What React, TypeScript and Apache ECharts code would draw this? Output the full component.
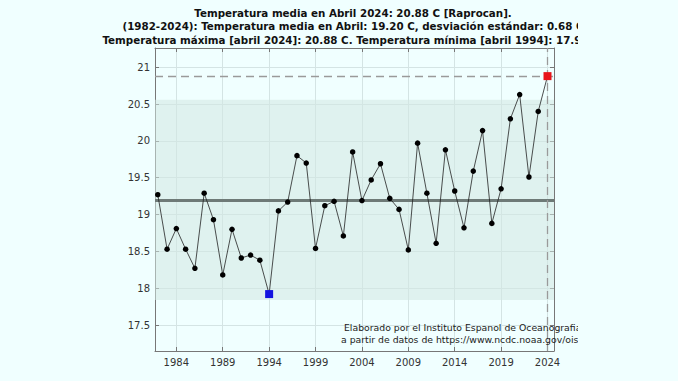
import React, { useEffect, useRef } from "react";
import * as echarts from "echarts";

const years = [
  1982, 1983, 1984, 1985, 1986, 1987, 1988, 1989, 1990, 1991, 1992, 1993, 1994,
  1995, 1996, 1997, 1998, 1999, 2000, 2001, 2002, 2003, 2004, 2005, 2006, 2007,
  2008, 2009, 2010, 2011, 2012, 2013, 2014, 2015, 2016, 2017, 2018, 2019, 2020,
  2021, 2022, 2023, 2024,
];
const temps = [
  19.27, 18.53, 18.81, 18.53, 18.27, 19.29, 18.93, 18.18, 18.8, 18.41, 18.45,
  18.38, 17.92, 19.05, 19.17, 19.8, 19.7, 18.54, 19.12, 19.18, 18.71, 19.85,
  19.19, 19.47, 19.69, 19.22, 19.07, 18.52, 19.97, 19.29, 18.61, 19.88, 19.32,
  18.82, 19.59, 20.14, 18.88, 19.35, 20.3, 20.63, 19.51, 20.4, 20.88,
];
const meanTemp = 19.2;
const stdTemp = 0.68;
const maxYear = 2024;
const maxTemp = 20.88;
const minYear = 1994;
const xTicks = [1984, 1989, 1994, 1999, 2004, 2009, 2014, 2019, 2024];
const yTicks = [17.5, 18, 18.5, 19, 19.5, 20, 20.5, 21];
const titleLines = [
  "Temperatura media en Abril 2024: 20.88 C [Raprocan].",
  "(1982-2024): Temperatura media en Abril: 19.20 C, desviación estándar: 0.68 C",
  "Temperatura máxima [abril 2024]: 20.88 C. Temperatura mínima [abril 1994]: 17.92 C.",
];
const noteLines = [
  "Elaborado por el Instituto Espanol de Oceanografia",
  "a partir de datos de https://www.ncdc.noaa.gov/oisst",
];

const BG = "#F0FFFF";
const FONT = "DejaVu Sans";

export default function App() {
  const ref = useRef<HTMLDivElement>(null);
  useEffect(() => {
    if (!ref.current) return;
    const chart = echarts.init(ref.current, undefined, { renderer: "svg" });
    const data = years.map((y, i) => {
      if (y === maxYear)
        return {
          value: [y, temps[i]],
          symbol: "rect",
          symbolSize: 8,
          itemStyle: { color: "#E8141A" },
        };
      if (y === minYear)
        return {
          value: [y, temps[i]],
          symbol: "rect",
          symbolSize: 8,
          itemStyle: { color: "#1414E0" },
        };
      return { value: [y, temps[i]] };
    });
    const axisCommon = {
      axisLine: { show: true, onZero: false, lineStyle: { color: "#777", width: 1 } },
    };
    chart.setOption({
      animation: false,
      backgroundColor: BG,
      title: {
        text: titleLines.join("\n"),
        left: 353,
        top: 6,
        padding: 0,
        textAlign: "center",
        textStyle: {
          fontFamily: FONT,
          fontWeight: "bold",
          fontSize: 10.3,
          lineHeight: 13.5,
          color: "#111",
        },
      },
      grid: { left: 155, top: 48, width: 399, height: 303, containLabel: false },
      xAxis: [
        {
          type: "value",
          min: 1981.7,
          max: 2024.7,
          ...axisCommon,
          axisTick: { show: true, inside: true, length: 4, customValues: xTicks, lineStyle: { color: "#777" } },
          axisLabel: {
            customValues: xTicks,
            margin: 6,
            fontFamily: FONT,
            fontSize: 10,
            color: "#333",
            formatter: (v: number) => String(v),
          },
          splitLine: { show: true, lineStyle: { color: "#D4E4E4", width: 1 } },
        },
        {
          type: "value",
          position: "top",
          min: 1981.7,
          max: 2024.7,
          ...axisCommon,
          axisTick: { show: true, inside: true, length: 4, customValues: xTicks, lineStyle: { color: "#777" } },
          axisLabel: { show: false },
          splitLine: { show: false },
        },
      ],
      yAxis: [
        {
          type: "value",
          min: 17.147,
          max: 21.262,
          ...axisCommon,
          axisTick: { show: true, inside: true, length: 4, customValues: yTicks, lineStyle: { color: "#777" } },
          axisLabel: {
            customValues: yTicks,
            margin: 5,
            fontFamily: FONT,
            fontSize: 10,
            color: "#333",
            formatter: (v: number) => String(v),
          },
          splitLine: { show: true, lineStyle: { color: "#D4E4E4", width: 1 } },
        },
        {
          type: "value",
          position: "right",
          min: 17.147,
          max: 21.262,
          ...axisCommon,
          axisTick: { show: true, inside: true, length: 4, customValues: yTicks, lineStyle: { color: "#777" } },
          axisLabel: { show: false },
          splitLine: { show: false },
        },
      ],
      series: [
        {
          type: "line",
          xAxisIndex: 0,
          yAxisIndex: 0,
          data,
          symbol: "circle",
          symbolSize: 5.5,
          itemStyle: { color: "#000" },
          lineStyle: { color: "#222", width: 0.8 },
          z: 5,
          markArea: {
            silent: true,
            itemStyle: { color: "#D2E7E1", opacity: 0.55 },
            data: [[{ yAxis: meanTemp - 2 * stdTemp }, { yAxis: meanTemp + 2 * stdTemp }]],
          },
          markLine: {
            silent: true,
            symbol: "none",
            label: { show: false },
            data: [
              { yAxis: meanTemp, lineStyle: { color: "#6E7A77", width: 3, type: "solid" } },
              { yAxis: maxTemp, lineStyle: { color: "#9A9A9A", width: 1.3, type: [8, 5] } },
              { xAxis: maxYear, lineStyle: { color: "#9A9A9A", width: 1.3, type: [8, 5] } },
            ],
          },
        },
      ],
      graphic: [
        {
          type: "text",
          x: 344,
          y: 327,
          style: {
            text: noteLines[0],
            fontFamily: FONT,
            fontSize: 9.3,
            fill: "#222",
            textVerticalAlign: "middle",
          },
          z: 50,
        },
        {
          type: "text",
          x: 341,
          y: 339,
          style: {
            text: noteLines[1],
            fontFamily: FONT,
            fontSize: 9.3,
            fill: "#222",
            textVerticalAlign: "middle",
          },
          z: 50,
        },
        { type: "rect", shape: { x: 578, y: 0, width: 100, height: 47 }, style: { fill: BG }, z: 100 },
        { type: "rect", shape: { x: 578, y: 316, width: 100, height: 30 }, style: { fill: BG }, z: 100 },
      ],
    });
    return () => chart.dispose();
  }, []);
  return (
    <div
      ref={ref}
      style={{ position: "fixed", left: 0, top: 0, width: 678, height: 381 }}
    />
  );
}
